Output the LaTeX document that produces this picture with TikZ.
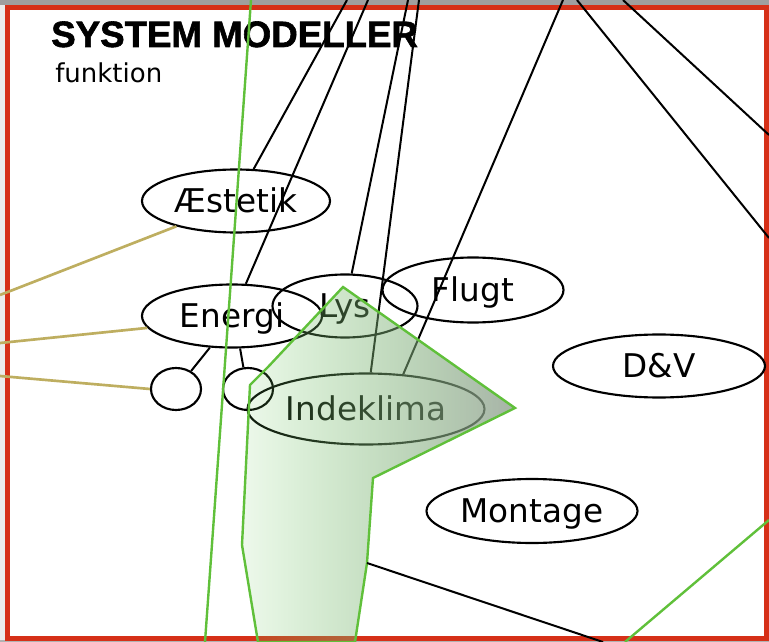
\documentclass[tikz,border=0pt]{standalone}
\usepackage{fontspec}
\setmainfont{DejaVu Sans}
\newfontfamily\titlefont[FakeBold=1.6]{Liberation Sans}
\usetikzlibrary{shapes.geometric, fadings}

\definecolor{framered}{RGB}{214,48,24}
\definecolor{zonegreen}{RGB}{96,192,58}
\definecolor{linkolive}{RGB}{190,174,96}
\definecolor{zoneleft}{RGB}{110,200,95}
\definecolor{zoneright}{RGB}{145,160,145}

\tikzfading[name=zonefade, left color=transparent!88, right color=transparent!20]

\begin{document}
\begin{tikzpicture}[x=0.75pt, y=-0.75pt,
    oval/.style 2 args={ellipse, draw, line width=1.6pt, inner sep=0pt,
      minimum width=#1*0.75pt, minimum height=#2*0.75pt,
      text height=17.5pt, text depth=0pt, font=\fontsize{24.5}{29}\selectfont},
    link/.style={line width=1.5pt},
    olive/.style={draw=linkolive, line width=2pt},
    greenline/.style={draw=zonegreen, line width=1.8pt}]
        \useasboundingbox (0,0) rectangle (769,642);

        % Frame
        \fill[gray!75] (0,0) rectangle (769,5);
        \fill[gray!15] (0,5) rectangle (5,642);
        \fill[gray!60] (0,640) rectangle (769,642);
        \draw[framered, line width=3.75pt] (7.5,7.5) rectangle (766,638);

        % Title
        \node[anchor=base west, inner sep=0pt, font=\titlefont\bfseries\fontsize{27.5}{30}\selectfont] (title) at (51,47) {SYSTEM MODELLER};
        \node[anchor=base west, inner sep=0pt, font=\fontsize{19.5}{22}\selectfont] (subtitle) at (55,83) {funktion};

        % Ellipses
        \node[oval={188}{63}] (aestetik) at (236,201) {\makebox[0pt]{Æstetik}};
        \node[oval={180}{63}] (energi) at (232,316) {\makebox[0pt]{Energi}};
        \node[oval={145}{63}] (lys) at (345,306) {\makebox[0pt]{Lys}};
        \node[oval={181}{65}] (flugt) at (473,290) {\makebox[0pt]{Flugt}};
        \node[oval={212}{63}] (dv) at (659,366) {\makebox[0pt]{D\&V}};
        \node[oval={211}{64}] (montage) at (532,511) {\makebox[0pt]{Montage}};
        \node[oval={237}{71}] (indeklima) at (366,409) {\makebox[0pt]{Indeklima}};
        \node[oval={50}{42}] (c1) at (176,389) {};
        \node[oval={50}{42}] (c2) at (248,389) {};

        % Free ends
        \coordinate (topA) at (347,0);
        \coordinate (topB) at (368,0);
        \coordinate (topC) at (408,0);
        \coordinate (topD) at (419,0);
        \coordinate (topE) at (563,0);
        \coordinate (topF) at (577,0);
        \coordinate (rightF) at (769,238);
        \coordinate (topG) at (623,0);
        \coordinate (rightG) at (769,135);
        \coordinate (bottomH) at (603,642);
        \coordinate (leftA) at (0,295);
        \coordinate (leftB) at (0,343);
        \coordinate (leftC) at (0,376);

        % Zone outline
        \coordinate (z1) at (343,287);
        \coordinate (z2) at (515,408);
        \coordinate (z3) at (373,478);
        \coordinate (z4) at (367,563);
        \coordinate (z5) at (355,642);
        \coordinate (z6) at (258,642);
        \coordinate (z7) at (242,545);
        \coordinate (z8) at (250,385);
        \coordinate (z9) at (268,367);

        % Black links
        \draw[link] (aestetik) -- (topA);
        \draw[link] (energi) -- (topB);
        \draw[link] (lys) -- (topC);
        \draw[link] (indeklima) -- (topD);
        \draw[link] (indeklima.43) -- (topE);
        \draw[link] (topF) -- (rightF);
        \draw[link] (topG) -- (rightG);
        \draw[link] (energi.235) -- (c1.50);
        \draw[link] (energi.284) -- (c2.102);

        % Olive links
        \draw[olive] (leftA) -- (aestetik.203);
        \draw[olive] (leftB) -- (energi.188);
        \draw[olive] (leftC) -- (c1.west);

        % Zone
        \shade[left color=zoneleft, right color=zoneright, path fading=zonefade]
          (z1) -- (z2) -- (z3) -- (z4) -- (z5) -- (z6) -- (z7) -- (z8) -- (z9) -- cycle;
        \draw[greenline] (z1) -- (z2) -- (z3) -- (z4) -- (z5) -- (z6) -- (z7) -- (z8) -- (z9) -- cycle;
        \draw[link] (z4) -- (bottomH);

        % Green lines
        \draw[greenline] (251,0) -- (205,642);
        \draw[greenline] (625,642) -- (769,520);
\end{tikzpicture}
\end{document}
